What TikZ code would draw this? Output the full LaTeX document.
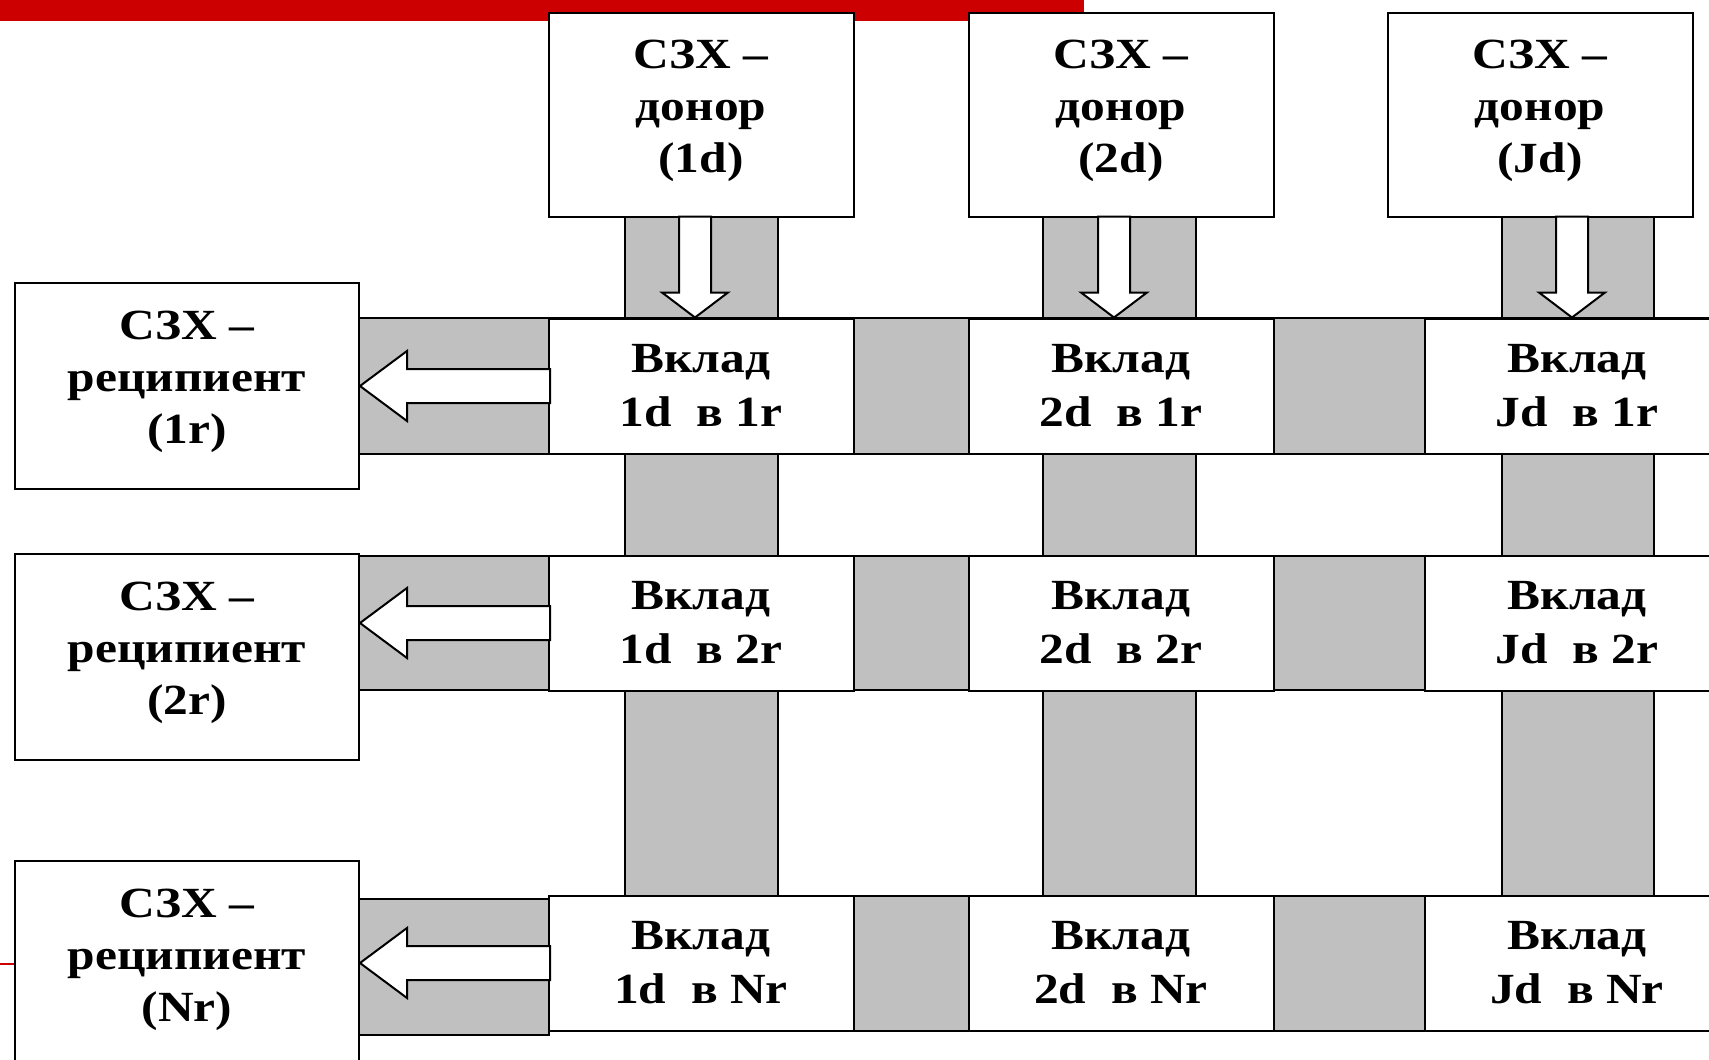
\documentclass[tikz,border=0pt]{standalone}
\usepackage{fontspec}
\setmainfont{Liberation Serif}[FakeStretch=1.15]
\usetikzlibrary{calc}
\definecolor{slidered}{RGB}{204,0,0}
\definecolor{bandgray}{RGB}{192,192,192}
\tikzset{
  box/.style={draw=black, line width=2pt, fill=white, inner sep=0pt, align=center,
    font=\fontsize{43}{52}\selectfont\bfseries},
  txt/.style={align=center, inner sep=0pt, yshift=4pt,
    font=\fontsize{43}{52}\selectfont\bfseries},
  donorbox/.style={box, minimum width=305pt, minimum height=204pt},
  recbox/.style={box, minimum width=344pt, minimum height=206pt},
  contbox/.style={box, minimum width=305pt, minimum height=135pt,
    font=\fontsize{43}{54}\selectfont\bfseries},
  strip/.style={fill=bandgray, draw=black, line width=2pt},
  barrow/.style={fill=white, draw=black, line width=2pt, line join=miter},
  redline/.style={draw=slidered, line width=2pt},
}
\begin{document}
\begin{tikzpicture}[x=1pt,y=-1pt]
\clip (0,0) rectangle (1709,1060);
\fill[white] (0,0) rectangle (1709,1060);
\fill[slidered] (0,0) rectangle (1084,21);
% vertical gray strips
\draw[strip] (625,217) rectangle (778,896);
\draw[strip] (1043,217) rectangle (1196,896);
\draw[strip] (1502,217) rectangle (1654,896);
% horizontal gray bands
\draw[strip] (359,318) rectangle (1790,454);
\draw[strip] (359,556) rectangle (1790,690);
\draw[strip] (701,896) rectangle (1790,1031);
\draw[strip] (359,899) rectangle (549,1035);
% red slide line
\coordinate (redend) at (0,964);
\draw[redline] (redend) -- (30,964);
% donors
\node[donorbox, label={[txt]center:СЗХ –\\донор\\(1d)}] (d1) at (701,115) {};
\node[donorbox, label={[txt]center:СЗХ –\\донор\\(2d)}] (d2) at (1121,115) {};
\node[donorbox, label={[txt]center:СЗХ –\\донор\\(Jd)}] (dJ) at (1540,115) {};
% recipients
\node[recbox, label={[txt]center:СЗХ –\\реципиент\\(1r)}] (r1) at (187,386) {};
\node[recbox, label={[txt]center:СЗХ –\\реципиент\\(2r)}] (r2) at (187,657) {};
\node[recbox, label={[txt]center:СЗХ –\\реципиент\\(Nr)}] (rN) at (187,964) {};
% contributions
\node[contbox] (c11) at (701,386) {Вклад\\1d~~в 1r};
\node[contbox] (c21) at (1121,386) {Вклад\\2d~~в 1r};
\node[contbox] (cJ1) at (1577,386) {Вклад\\Jd~~в 1r};
\node[contbox] (c12) at (701,623) {Вклад\\1d~~в 2r};
\node[contbox] (c22) at (1121,623) {Вклад\\2d~~в 2r};
\node[contbox] (cJ2) at (1577,623) {Вклад\\Jd~~в 2r};
\node[contbox] (c1N) at (701,963) {Вклад\\1d~~в Nr};
\node[contbox] (c2N) at (1121,963) {Вклад\\2d~~в Nr};
\node[contbox] (cJN) at (1577,963) {Вклад\\Jd~~в Nr};
% down arrows (donor -> contribution)
\draw[barrow] ($(c11.north)+(-6,0)$) -- ++(-33,-25) -- ++(17,0) -- ++(0,-76)
  -- ++(32,0) -- ++(0,76) -- ++(17,0) -- cycle;
\draw[barrow] ($(c21.north)+(-7,0)$) -- ++(-33,-25) -- ++(17,0) -- ++(0,-76)
  -- ++(32,0) -- ++(0,76) -- ++(17,0) -- cycle;
\draw[barrow] ($(cJ1.north)+(-5,0)$) -- ++(-33,-25) -- ++(17,0) -- ++(0,-76)
  -- ++(32,0) -- ++(0,76) -- ++(17,0) -- cycle;
% left arrows (contribution -> recipient)
\draw[barrow] (r1.east |- c11.west) -- ++(47,-35) -- ++(0,18) -- ++(143,0)
  -- ++(0,34) -- ++(-143,0) -- ++(0,18) -- cycle;
\draw[barrow] (r2.east |- c12.west) -- ++(47,-35) -- ++(0,18) -- ++(143,0)
  -- ++(0,34) -- ++(-143,0) -- ++(0,18) -- cycle;
\draw[barrow] (rN.east |- c1N.west) -- ++(47,-35) -- ++(0,18) -- ++(143,0)
  -- ++(0,34) -- ++(-143,0) -- ++(0,18) -- cycle;
\end{tikzpicture}
\end{document}
